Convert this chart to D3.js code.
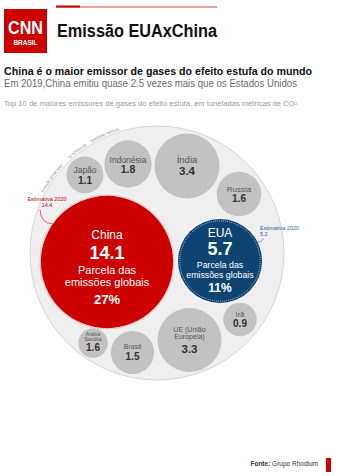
<!DOCTYPE html>
<html><head><meta charset="utf-8">
<script src="https://cdn.jsdelivr.net/npm/d3@7"></script>
<style>
body{margin:0;background:#fff;}
svg{display:block;font-family:"Liberation Sans",Arial,sans-serif;}
</style>
</head><body>
<svg id="chart" width="340" height="476"></svg>
<script>
// ---------- DATA ----------
const countries = ["China","EUA","Índia","UE (União Europeia)","Indonésia","Russia","Arábia Saudita","Brasil","Japão","Irã"];
const emissions2019 = [14.1, 5.7, 3.4, 3.3, 1.8, 1.6, 1.6, 1.5, 1.1, 0.9];
const displayLabels = [["China"],["EUA"],["Índia"],["UE (União","Europeia)"],["Indonésia"],["Russia"],["Arábia","Saudita"],["Brasil"],["Japão"],["Irã"]];
const highlightCountries = ["China","EUA"];
const globalSharePct = [27, 11];
const estimate2020 = [14.4, 5.2];
const globalTotal = 52;

const titleText = "Emissão EUAxChina";
const headline = "China é o maior emissor de gases do efeito estufa do mundo";
const subtitle = "Em 2019,China emitiu quase 2.5 vezes mais que os Estados Unidos";
const note = "Top 10 de maiores emissores de gases do efeito estufa, em toneladas métricas de CO²";
const arcGroups = ["Emissão global total:", globalTotal + " bilhões de", "toneladas métricas"];
const sourceLabel = "Fonte:";
const sourceName = " Grupo Rhodium";

// ---------- LAYOUT (positions relative to the outer circle centre) ----------
const outer = {cx: 157, cy: 253};
const layout = [
  {dx:-50,  dy:9,    lab:[-23], val:-3,   ls:12,  vs:18},   // China
  {dx:63,   dy:8,    lab:[-24], val:-6,   ls:12,  vs:18},   // EUA
  {dx:30,   dy:-87,  lab:[-3],  val:9,    ls:9.5, vs:11.5}, // Índia
  {dx:32.5, dy:87,   lab:[-8.5,-1.3], val:12.5, ls:7, vs:11.5}, // UE
  {dx:-29,  dy:-89,  lab:[-1.5],val:9,    ls:8.5, vs:10.5}, // Indonésia
  {dx:82,   dy:-59,  lab:[-2.5],val:8,    ls:8,   vs:10},   // Russia
  {dx:-64,  dy:90,   lab:[-7,-2], val:7.7, ls:5,  vs:10, fit:0.66}, // Arábia Saudita
  {dx:-24.5,dy:99.5, lab:[-3.5], val:7.5, ls:7,   vs:10},   // Brasil
  {dx:-72,  dy:-78,  lab:[-2],  val:8.5,  ls:8.5, vs:10},   // Japão
  {dx:83,   dy:66.5, lab:[-2.5], val:7.5, ls:7.5, vs:10}    // Irã
];

const RED = "#cc0000", BLUE = "#0e4372", GREY = "#c2c2c2";

const svg = d3.select("#chart");
const rScale = d3.scaleSqrt().domain([0, globalTotal]).range([0, 127]);

// ---------- HEADER ----------
svg.append("rect").attr("x",56).attr("y",6.5).attr("width",161).attr("height",1).attr("fill","#e04040");
svg.append("rect").attr("x",56).attr("y",5.5).attr("width",24).attr("height",2).attr("fill",RED);

svg.append("rect").attr("x",4).attr("y",9).attr("width",43).attr("height",44).attr("fill",RED);
svg.append("text").attr("x",25.5).attr("y",34).attr("text-anchor","middle")
  .attr("font-size",19).attr("font-weight","bold").attr("fill","#fff")
  .attr("textLength",35).attr("lengthAdjust","spacingAndGlyphs").text("CNN");
svg.append("text").attr("x",25.5).attr("y",45).attr("text-anchor","middle")
  .attr("font-size",6.5).attr("font-weight","bold").attr("fill","#fff").text("BRASIL");

svg.append("text").attr("x",57).attr("y",37).attr("font-size",17.5).attr("font-weight","bold")
  .attr("fill","#111").attr("textLength",160).attr("lengthAdjust","spacingAndGlyphs").text(titleText);

svg.append("text").attr("x",4).attr("y",75).attr("font-size",11).attr("font-weight","bold")
  .attr("fill","#111").attr("textLength",308).attr("lengthAdjust","spacingAndGlyphs").text(headline);
svg.append("text").attr("x",4).attr("y",87).attr("font-size",10.5)
  .attr("fill","#6a6a6a").attr("textLength",293).attr("lengthAdjust","spacingAndGlyphs").text(subtitle);
svg.append("text").attr("x",4).attr("y",106).attr("font-size",6.8)
  .attr("fill","#9a9a9a").attr("textLength",293).attr("lengthAdjust","spacingAndGlyphs").text(note);

// ---------- OUTER CIRCLE ----------
const R = rScale(globalTotal);
svg.append("circle").attr("cx",outer.cx).attr("cy",outer.cy).attr("r",R)
  .attr("fill","#efefef").attr("stroke","#d6d6d6").attr("stroke-width",1);

// curved label just outside the outer circle, in three pieces
const arcR = R + 1.5;
const a0 = -152, a1 = -107;
const gapsDeg = [4, 2.5];
const arcFont = 4.2;
const probe = svg.append("text").attr("font-size",arcFont).attr("visibility","hidden");
const groupW = arcGroups.map(w=>{ probe.text(w); return probe.node().getComputedTextLength(); });
probe.remove();
const availDeg = (a1 - a0) - d3.sum(gapsDeg);
const totalW = d3.sum(groupW);
const defs = svg.append("defs");
let ang = a0;
arcGroups.forEach((w,i)=>{
  const spanDeg = availDeg * groupW[i] / totalW;
  const sa = ang * Math.PI/180, ea = (ang + spanDeg) * Math.PI/180;
  const s = [outer.cx + arcR*Math.cos(sa), outer.cy + arcR*Math.sin(sa)];
  const e = [outer.cx + arcR*Math.cos(ea), outer.cy + arcR*Math.sin(ea)];
  defs.append("path").attr("id","arcG"+i).attr("d",`M${s[0]},${s[1]} A${arcR},${arcR} 0 0 1 ${e[0]},${e[1]}`);
  svg.append("text").attr("font-size",arcFont).attr("fill","#888")
    .append("textPath").attr("href","#arcG"+i)
    .attr("textLength", arcR*spanDeg*Math.PI/180).attr("lengthAdjust","spacingAndGlyphs").text(w);
  ang += spanDeg + (gapsDeg[i] || 0);
});

// ---------- BUBBLES ----------
const nodes = countries.map((c,i)=>{
  const L = layout[i];
  return {name:c, value:emissions2019[i], lines:displayLabels[i], L,
          x: outer.cx + L.dx, y: outer.cy + L.dy,
          r: rScale(emissions2019[i]) * (L.fit || 1),
          hi: highlightCountries.indexOf(c)};
});

const g = svg.append("g");
nodes.forEach(n=>{
  const fill = n.hi===0 ? RED : n.hi===1 ? BLUE : GREY;
  g.append("circle").attr("cx",n.x).attr("cy",n.y).attr("r",n.r).attr("fill",fill);
  if(n.hi>=0){
    const er = rScale(estimate2020[n.hi]);
    g.append("circle").attr("cx",n.x).attr("cy",n.y).attr("r",er).attr("fill","none")
      .attr("stroke", n.hi===0 ? "#ee8a8a" : "#a9bfd6").attr("stroke-width",1)
      .attr("stroke-dasharray","1 1");
  }
});

const fmt = d3.format(".1f");
nodes.forEach(n=>{
  const L = n.L;
  const isHi = n.hi>=0;
  const labCol = isHi ? "#fff" : "#555";
  const valCol = isHi ? "#fff" : "#333";
  n.lines.forEach((t,k)=>{
    g.append("text").attr("x",n.x).attr("y",n.y+L.lab[k]).attr("text-anchor","middle")
      .attr("font-size",L.ls).attr("fill",labCol).text(t);
  });
  g.append("text").attr("x",n.x).attr("y",n.y+L.val).attr("text-anchor","middle")
    .attr("font-size",L.vs).attr("font-weight","bold").attr("fill",valCol).text(fmt(n.value));
  if(isHi){
    const big = n.hi===0;
    const fs = big ? 11 : 8.8;
    const y1 = big ? 12 : 7, y2 = big ? 24 : 17, y3 = big ? 42 : 31;
    g.append("text").attr("x",n.x).attr("y",n.y+y1).attr("text-anchor","middle")
      .attr("font-size",fs).attr("fill","#fff").text("Parcela das");
    g.append("text").attr("x",n.x).attr("y",n.y+y2).attr("text-anchor","middle")
      .attr("font-size",fs).attr("fill","#fff").text("emissões globais");
    g.append("text").attr("x",n.x).attr("y",n.y+y3).attr("text-anchor","middle")
      .attr("font-size",big?13:12).attr("font-weight","bold").attr("fill","#fff")
      .text(globalSharePct[n.hi] + "%");
  }
});

// ---------- ESTIMATE ANNOTATIONS ----------
const china = nodes[0], usa = nodes[1];
function onCircle(n, r, deg){ const a = deg*Math.PI/180; return [n.x + r*Math.cos(a), n.y + r*Math.sin(a)]; }

const cT = onCircle(china, rScale(estimate2020[0]), -145);
svg.append("text").attr("x",47).attr("y",201).attr("text-anchor","middle").attr("font-size",5.5)
  .attr("fill",RED).text("Estimativa 2020");
svg.append("text").attr("x",47).attr("y",207.3).attr("text-anchor","middle").attr("font-size",5.5)
  .attr("fill",RED).text(fmt(estimate2020[0]));
svg.append("path").attr("d",`M40,209.5 Q41,${cT[1]} ${cT[0]},${cT[1]}`)
  .attr("fill","none").attr("stroke",RED).attr("stroke-width",0.6);

const uT = onCircle(usa, rScale(estimate2020[1]) + 1.5, -27);
svg.append("text").attr("x",260).attr("y",229.5).attr("font-size",5.5)
  .attr("fill","#2c6aa0").text("Estimativa 2020");
svg.append("text").attr("x",260).attr("y",236).attr("font-size",5.5)
  .attr("fill","#2c6aa0").text(fmt(estimate2020[1]));
svg.append("path").attr("d",`M263,238 Q263,${uT[1]} ${uT[0]},${uT[1]}`)
  .attr("fill","none").attr("stroke","#2c6aa0").attr("stroke-width",0.6);

// ---------- FOOTER ----------
const src = svg.append("text").attr("x",318).attr("y",466).attr("text-anchor","end")
  .attr("font-size",6.5).attr("fill","#333");
src.append("tspan").attr("font-weight","bold").text(sourceLabel);
src.append("tspan").text(sourceName);
svg.append("rect").attr("x",326).attr("y",458).attr("width",5).attr("height",14).attr("fill",RED);
</script>
</body></html>
